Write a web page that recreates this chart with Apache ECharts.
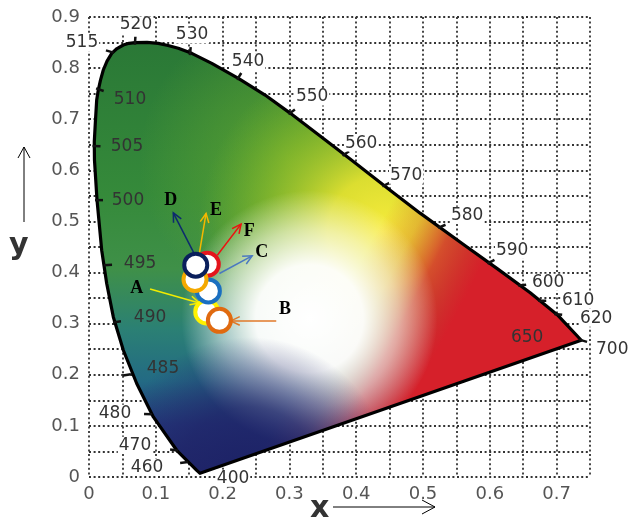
<!DOCTYPE html>
<html><head><meta charset="utf-8">
<script src="https://cdn.jsdelivr.net/npm/echarts@6/dist/echarts.min.js"></script>
<style>html,body{margin:0;padding:0;background:#fff}#c{width:632px;height:517px}</style>
</head><body><div id="c"></div>
<script>
// ---- spectral locus ----
const locusX = [0.1662,0.1613,0.1313,0.0963,0.0714,0.0514,0.0364,0.0265,0.0190,0.0120,0.0082,0.0079,0.0097,0.0115,0.0139,0.0172,0.0214,0.0270,0.0340,0.0419,0.0514,0.0599,0.0689,0.0869,0.1038,0.1183,0.1337,0.1538,0.1838,0.2236,0.2636,0.3010,0.3460,0.3909,0.4508,0.4957,0.5601,0.6111,0.6605,0.7009,0.7369];
const locusY = [0.0072,0.0131,0.0523,0.1175,0.1829,0.2480,0.3132,0.3786,0.4438,0.5417,0.6200,0.6558,0.6983,0.7375,0.7571,0.7766,0.7963,0.8138,0.8289,0.8383,0.8452,0.8485,0.8497,0.8504,0.8485,0.8442,0.8387,0.8289,0.8093,0.7800,0.7473,0.7120,0.6670,0.6220,0.5612,0.5162,0.4555,0.4076,0.3606,0.3175,0.2676];

// ---- wavelength marks ----
const wlNames  = ['400','460','470','480','485','490','495','500','505','510','515','520','530','540','550','560','570','580','590','600','610','620','650','700'];
const wlCurveX = [null,0.1453,0.1303,0.0914,0.0539,0.0389,0.0255,0.0120,0.0082,0.0135,0.0340,0.0689,0.1513,0.2232,0.3010,0.3819,0.4418,0.5255,0.5991,0.6455,0.6755,0.6994,null,0.7369];
const wlCurveY = [null,0.0288,0.0523,0.1228,0.1991,0.3029,0.4145,0.5417,0.6474,0.7590,0.8314,0.8497,0.8295,0.7805,0.7120,0.6307,0.5703,0.4888,0.4193,0.3749,0.3448,0.3185,null,0.2676];
const wlLabelX = [0.2157,0.0869,0.0689,0.0389,0.1108,0.0914,0.0764,0.0584,0.0569,0.0614,-0.0105,0.0704,0.1543,0.2381,0.3340,0.4074,0.4748,0.5661,0.6335,0.6874,0.7323,0.7593,0.6560,0.7833];
const wlLabelY = [-0.0025,0.0190,0.0621,0.1247,0.2128,0.3126,0.4184,0.5417,0.6455,0.7375,0.8490,0.8843,0.8647,0.8119,0.7434,0.6533,0.5906,0.5123,0.4438,0.3812,0.3460,0.3107,0.2734,0.2500];
const wlOutside = [1,1,1,1,0,0,0,0,0,0,1,1,1,1,1,1,1,1,1,1,1,1,0,1];

// ---- samples (draw order bottom -> top) ----
const sampleNames = ['A','C','F','E','D','B'];
const sampleX = [0.1763,0.1787,0.1771,0.1587,0.1598,0.1952];
const sampleY = [0.3230,0.3641,0.4163,0.3865,0.4145,0.3065];
const sampleColors = ['#fff200','#1a6fc0','#e4141c','#f4a900','#0a1f5c','#e06a10'];

// ---- annotation arrows ----
const arrowNames = ['A','B','C','D','E','F'];
const arrowFromX = [0.0914,0.2803,0.1952,0.1573,0.1652,0.1921];
const arrowFromY = [0.3680,0.3054,0.3981,0.4375,0.4375,0.4340];
const arrowToX   = [0.1652,0.2122,0.2442,0.1262,0.1752,0.2276];
const arrowToY   = [0.3406,0.3054,0.4327,0.5168,0.5156,0.4947];
const arrowLabX  = [0.0714,0.2935,0.2587,0.1224,0.1902,0.2400];
const arrowLabY  = [0.3689,0.3277,0.4398,0.5417,0.5208,0.4812];
const arrowColors = ['#f2ec00','#e07828','#4a78c0','#0d2a6e','#f5b800','#ee1010'];

const G = echarts.graphic;
function gamutItem(params, api) {
  if (params.dataIndex !== 0) return null;
  const pts = locusX.map((x, i) => api.coord([x, locusY[i]]));
  const P = (x, y) => api.coord([x, y]);
  const top = P(0, 0.85), bot = P(0, 0);
  const base = new G.LinearGradient(0, top[1], 0, bot[1], [
    {offset: 0, color: '#2a7836'}, {offset: 0.35, color: '#358a3a'},
    {offset: 0.52, color: '#3f9048'}, {offset: 0.66, color: '#2b8074'},
    {offset: 0.78, color: '#236a84'}, {offset: 0.88, color: '#22387a'},
    {offset: 1, color: '#1e2468'}], true);
  const gc = P(0.30, 0.62);
  const green = new G.RadialGradient(gc[0], gc[1], 150, [
    {offset: 0, color: 'rgba(105,170,45,0.75)'}, {offset: 1, color: 'rgba(105,170,45,0)'}], true);
  const yc = P(0.44, 0.48);
  const yellow = new G.RadialGradient(yc[0], yc[1], 185, [
    {offset: 0, color: 'rgba(248,236,60,1)'}, {offset: 0.3, color: 'rgba(232,228,48,0.92)'},
    {offset: 0.65, color: 'rgba(160,198,40,0.55)'}, {offset: 1, color: 'rgba(120,180,40,0)'}], true);
  const s = P(0.3779, 0.3508);
  const red = new G.LinearGradient(s[0], s[1], s[0] + 97, s[1] + 51, [
    {offset: 0, color: 'rgba(214,32,42,0)'}, {offset: 0.3, color: 'rgba(220,60,40,0.25)'},
    {offset: 0.6, color: 'rgba(214,32,42,0.75)'}, {offset: 1, color: 'rgba(214,32,42,1)'}], true);
  const wc = P(0.33, 0.31);
  const white = new G.RadialGradient(wc[0], wc[1], 128, [
    {offset: 0, color: 'rgba(255,255,255,1)'}, {offset: 0.42, color: 'rgba(255,255,255,0.96)'},
    {offset: 0.7, color: 'rgba(255,255,255,0.55)'}, {offset: 1, color: 'rgba(255,255,255,0)'}], true);
  const nc = P(0.24, 0.0);
  const navy = new G.RadialGradient(nc[0], nc[1], 140, [
    {offset: 0, color: 'rgba(28,34,102,0.95)'}, {offset: 0.5, color: 'rgba(32,36,104,0.7)'},
    {offset: 1, color: 'rgba(40,40,110,0)'}], true);
  const mk = (fill) => ({type: 'polygon', shape: {points: pts}, style: {fill: fill, stroke: null}});
  return {type: 'group', children: [
    mk(base), mk(green), mk(yellow), mk(red), mk(white), mk(navy),
    {type: 'polygon', shape: {points: pts}, style: {fill: null, stroke: '#000', lineWidth: 3.2, lineJoin: 'round'}}
  ]};
}

function wlItem(params, api) {
  const i = params.dataIndex;
  const l = api.coord([wlLabelX[i], wlLabelY[i]]);
  const children = [];
  if (wlCurveX[i] !== null) {
    const c = api.coord([wlCurveX[i], wlCurveY[i]]);
    let dx = l[0] - c[0], dy = l[1] - c[1];
    const d = Math.hypot(dx, dy) || 1; dx /= d; dy /= d;
    children.push({type: 'line', shape: {x1: c[0] - dx * 2, y1: c[1] - dy * 2, x2: c[0] + dx * 6, y2: c[1] + dy * 6},
      style: {stroke: '#111', lineWidth: 2.5}});
  }
  children.push({type: 'text', style: {text: wlNames[i], x: l[0], y: l[1], fill: '#333',
    fontSize: 17, fontFamily: 'DejaVu Sans', align: 'center', verticalAlign: 'middle',
    backgroundColor: wlOutside[i] ? '#fff' : null, padding: wlOutside[i] ? [0, 1] : 0}});
  return {type: 'group', children: children};
}

function arrowItem(params, api) {
  const i = params.dataIndex;
  const p1 = api.coord([arrowFromX[i], arrowFromY[i]]);
  const p2 = api.coord([arrowToX[i], arrowToY[i]]);
  const pl = api.coord([arrowLabX[i], arrowLabY[i]]);
  const a = Math.atan2(p2[1] - p1[1], p2[0] - p1[0]);
  const h = 10, w = 0.45;
  const col = arrowColors[i];
  return {type: 'group', children: [
    {type: 'line', shape: {x1: p1[0], y1: p1[1], x2: p2[0], y2: p2[1]}, style: {stroke: col, lineWidth: 1.5}},
    {type: 'polyline', shape: {points: [[p2[0] - h * Math.cos(a - w), p2[1] - h * Math.sin(a - w)], p2,
      [p2[0] - h * Math.cos(a + w), p2[1] - h * Math.sin(a + w)]]}, style: {stroke: col, lineWidth: 1.5, fill: null}},
    {type: 'text', style: {text: arrowNames[i], x: pl[0], y: pl[1], fill: '#000', fontSize: 18,
      fontWeight: 'bold', fontFamily: 'Liberation Serif', align: 'center', verticalAlign: 'middle'}}
  ]};
}

const fmt = v => { const r = Math.round(v * 100); return r % 10 === 0 ? String(r / 100) : ''; };
const gridLine = {show: true, lineStyle: {color: '#333', width: 1.8, type: [2, 2.6]}};
const axisLab = {color: '#555', fontSize: 18, fontFamily: 'DejaVu Sans', formatter: fmt};

const series = [
  {type: 'custom', z: 1, clip: false, renderItem: gamutItem, data: locusX.map((x, i) => [x, locusY[i]]), silent: true},
  {type: 'custom', z: 2, clip: false, renderItem: wlItem, data: wlNames.map((n, i) => [wlLabelX[i], wlLabelY[i]]), silent: true},
  {type: 'custom', z: 3, clip: false, renderItem: arrowItem, data: arrowNames.map((n, i) => [arrowToX[i], arrowToY[i]]), silent: true}
];
sampleNames.forEach((n, i) => series.push({
  type: 'scatter', name: n, z: 4 + i, symbolSize: 23, data: [[sampleX[i], sampleY[i]]],
  itemStyle: {color: '#fff', borderColor: sampleColors[i], borderWidth: 4, opacity: 1}
}));

const chart = echarts.init(document.getElementById('c'), null, {renderer: 'canvas'});
chart.setOption({
  animation: false,
  backgroundColor: '#fff',
  grid: {left: 89, top: 17, width: 501, height: 460},
  xAxis: {type: 'value', min: 0, max: 0.75, interval: 0.05, axisLine: {show: false}, axisTick: {show: false},
    splitLine: gridLine, axisLabel: Object.assign({margin: 8}, axisLab)},
  yAxis: {type: 'value', min: 0, max: 0.9, interval: 0.05, axisLine: {show: false}, axisTick: {show: false},
    splitLine: gridLine, axisLabel: Object.assign({margin: 9}, axisLab)},
  graphic: [
    {type: 'text', left: 9, top: 231, style: {text: 'y', fontSize: 30, fontFamily: 'DejaVu Sans', fontWeight: 'bold', fill: '#333'}},
    {type: 'text', left: 310, top: 494, style: {text: 'x', fontSize: 30, fontFamily: 'DejaVu Sans', fontWeight: 'bold', fill: '#333'}},
    {type: 'polyline', shape: {points: [[24, 222], [24, 147]]}, style: {stroke: '#000', lineWidth: 1}},
    {type: 'polyline', shape: {points: [[18, 158], [24, 147], [30, 158]]}, style: {stroke: '#000', lineWidth: 1, fill: null}},
    {type: 'polyline', shape: {points: [[333, 507], [435, 507]]}, style: {stroke: '#000', lineWidth: 1}},
    {type: 'polyline', shape: {points: [[422, 500], [435, 507], [422, 514]]}, style: {stroke: '#000', lineWidth: 1, fill: null}}
  ],
  series: series
});
</script></body></html>
